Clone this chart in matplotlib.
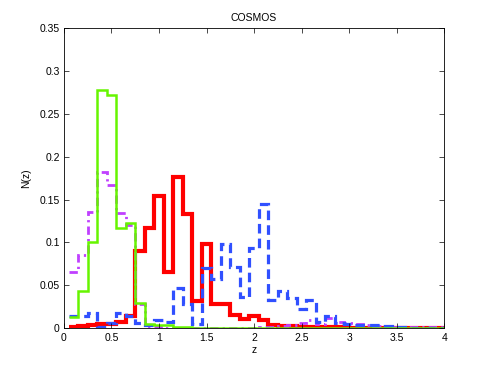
import numpy as np
import matplotlib.pyplot as plt
from matplotlib.ticker import FormatStrFormatter

# bin edges (width 0.1) shared by all four N(z) histograms
edges = np.round(np.arange(0.05, 4.06, 0.1), 2)

red_nz = [0.002, 0.003, 0.004, 0.005, 0.005, 0.008, 0.015, 0.090, 0.117, 0.154,
          0.066, 0.176, 0.133, 0.032, 0.098, 0.028, 0.028, 0.016, 0.011, 0.014,
          0.010, 0.004, 0.003, 0.003, 0.002, 0.002, 0.002, 0.002, 0.002, 0.001,
          0.001, 0.0, 0.0, 0.0, 0.0, 0.0, 0.0, 0.0, 0.0, 0.0]
blue_nz = [0.014, 0.015, 0.018, 0.002, 0.006, 0.018, 0.015, 0.006, 0.004, 0.010,
           0.008, 0.047, 0.028, 0.005, 0.070, 0.057, 0.098, 0.072, 0.037, 0.094,
           0.145, 0.033, 0.043, 0.035, 0.023, 0.033, 0.008, 0.015, 0.006, 0.005,
           0.004, 0.004, 0.004, 0.003, 0.002, 0.002, 0.001, 0.001, 0.001, 0.001]
magenta_nz = [0.066, 0.086, 0.136, 0.182, 0.167, 0.134, 0.120, 0.028, 0.002, 0.002,
              0.001, 0.001, 0.001, 0.001, 0.001, 0.001, 0.001, 0.001, 0.001, 0.001,
              0.002, 0.002, 0.003, 0.004, 0.006, 0.010, 0.005, 0.012, 0.008, 0.006,
              0.0055, 0.004, 0.003, 0.003, 0.002, 0.002, 0.002, 0.002, 0.002, 0.002]
green_nz = [0.013, 0.043, 0.100, 0.277, 0.272, 0.117, 0.123, 0.030, 0.005, 0.004,
            0.004, 0.002, 0.002, 0.001, 0.001, 0.001, 0.001, 0.001, 0.001, 0.001,
            0.001, 0.001, 0.001, 0.001, 0.001, 0.001, 0.001, 0.001, 0.001, 0.0,
            0.0, 0.0, 0.0, 0.0, 0.0, 0.0, 0.0, 0.0, 0.0, 0.0]

plt.rcParams['font.family'] = ['Liberation Sans', 'DejaVu Sans']
plt.rcParams['font.size'] = 7.5

fig = plt.figure(figsize=(4.91, 3.69), dpi=100)
ax = fig.add_axes([0.13, 0.11, 0.775, 0.815])

ax.stairs(red_nz, edges, baseline=None, color='#ff0000', linewidth=3.0)
ax.stairs(magenta_nz, edges, baseline=None, color='#c040ff', linewidth=2.0,
          linestyle=(0, (3.0, 1.5, 0.8, 1.5)))
ax.stairs(blue_nz, edges, baseline=None, color='#3050ff', linewidth=2.3,
          linestyle=(0, (3.0, 1.6)))
ax.stairs(green_nz, edges, baseline=None, color='#66f500', linewidth=1.8)

ax.set_xlim(0, 4)
ax.set_ylim(0, 0.35)
ax.set_xticks(np.arange(0, 4.01, 0.5))
ax.set_yticks(np.arange(0, 0.351, 0.05))
ax.xaxis.set_major_formatter(FormatStrFormatter('%g'))
ax.yaxis.set_major_formatter(FormatStrFormatter('%g'))
ax.tick_params(direction='in', top=True, right=True, length=3.5, width=0.5, pad=3)
for s in ax.spines.values():
    s.set_linewidth(0.6)

ax.set_xlabel('z', labelpad=2)
ax.set_ylabel('N(z)', labelpad=6)
ax.set_title('COSMOS', fontsize=7.5, pad=5)

fig.savefig('out.png', dpi=100)
